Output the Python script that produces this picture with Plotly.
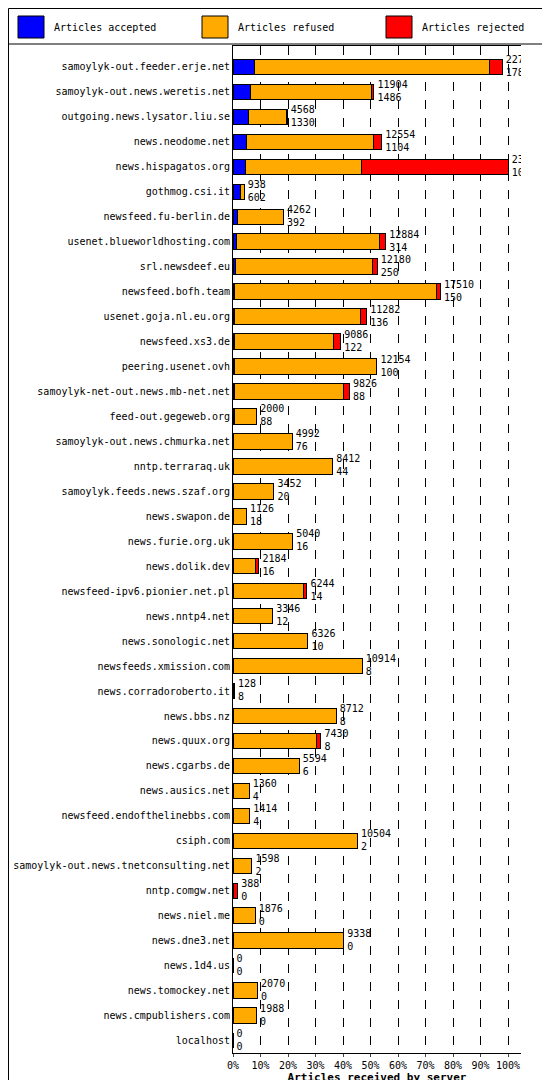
import plotly.graph_objects as go

servers = ["samoylyk-out.feeder.erje.net","samoylyk-out.news.weretis.net","outgoing.news.lysator.liu.se","news.neodome.net","news.hispagatos.org","gothmog.csi.it","newsfeed.fu-berlin.de","usenet.blueworldhosting.com","srl.newsdeef.eu","newsfeed.bofh.team","usenet.goja.nl.eu.org","newsfeed.xs3.de","peering.usenet.ovh","samoylyk-net-out.news.mb-net.net","feed-out.gegeweb.org","samoylyk-out.news.chmurka.net","nntp.terraraq.uk","samoylyk.feeds.news.szaf.org","news.swapon.de","news.furie.org.uk","news.dolik.dev","newsfeed-ipv6.pionier.net.pl","news.nntp4.net","news.sonologic.net","newsfeeds.xmission.com","news.corradoroberto.it","news.bbs.nz","news.quux.org","news.cgarbs.de","news.ausics.net","newsfeed.endofthelinebbs.com","csiph.com","samoylyk-out.news.tnetconsulting.net","nntp.comgw.net","news.niel.me","news.dne3.net","news.1d4.us","news.tomockey.net","news.cmpublishers.com","localhost"]
totals = [22722,11904,4568,12554,23228,938,4262,12884,12180,17510,11282,9086,12154,9826,2000,4992,8412,3452,1126,5040,2184,6244,3346,6326,10914,128,8712,7430,5594,1360,1414,10504,1598,388,1876,9338,0,2070,1988,0]
accepted = [1784,1486,1330,1104,1074,602,392,314,250,150,136,122,100,88,88,76,44,20,18,16,16,14,12,10,8,8,8,8,6,4,4,2,2,0,0,0,0,0,0,0]
rejected = [1088,200,50,700,12354,0,0,500,400,300,500,600,0,500,0,0,0,0,0,0,300,300,0,0,0,0,0,400,0,0,0,0,0,388,0,0,0,0,0,0]
refused = [t-a-r for t,a,r in zip(totals,accepted,rejected)]
series = ["Articles accepted", "Articles refused", "Articles rejected"]
colors = ["#0000ff", "#ffaa00", "#ff0000"]

L, R, T, B, W, H = 225, 37, 38, 35, 550, 1080
pw, ph = W-L-R, H-T-B
px = lambda x: (x-L)/pw
py = lambda y: (H-B-y)/ph

mx = max(totals)
pct = lambda v: [x/mx*100 for x in v]
fig = go.Figure()
for name, vals, col in zip(series, [accepted, refused, rejected], colors):
    fig.add_trace(go.Bar(y=list(range(len(servers))), x=pct(vals), orientation="h", name=name,
                         marker=dict(color=col, line=dict(color="black", width=1)),
                         width=0.62, showlegend=False))
fig.add_trace(go.Scatter(y=list(range(len(servers))), x=[p+1.3 for p in pct(totals)], mode="text",
                         text=[f"{t}<br>{a}" for t,a in zip(totals,accepted)],
                         textposition="middle right", showlegend=False,
                         textfont=dict(size=10, color="black", family="DejaVu Sans Mono")))
fig.update_layout(
    width=W, height=H, barmode="stack", plot_bgcolor="white", paper_bgcolor="white",
    margin=dict(l=L, r=R, t=T, b=B, autoexpand=False),
    font=dict(family="DejaVu Sans Mono", size=10, color="black"),
    showlegend=False,
    xaxis=dict(range=[0,104.7], tickvals=list(range(0,101,10)),
               ticktext=[f"{v}%" for v in range(0,101,10)],
               showgrid=True, gridcolor="black", griddash="dash", gridwidth=1,
               showline=True, linecolor="black", mirror=True, ticks="outside", ticklen=3,
               title=dict(text="<b>Articles received by server</b>", standoff=2, font=dict(size=11))),
    yaxis=dict(range=[39.5, -0.84], tickvals=list(range(len(servers))), ticktext=servers,
               showline=True, linecolor="black", ticks="", tickfont=dict(size=10)),
)
fig.add_shape(type="rect", xref="paper", yref="paper", x0=px(0.5), x1=px(W-0.5), y0=py(H-0.5), y1=py(0.5),
              line=dict(color="black", width=1))
fig.add_shape(type="line", xref="paper", yref="paper", x0=px(0), x1=px(W), y0=py(36), y1=py(36),
              line=dict(color="black", width=1))
for i, (name, col) in enumerate(zip(series, colors)):
    x0 = 10 + i*184
    fig.add_shape(type="rect", xref="paper", yref="paper", x0=px(x0), x1=px(x0+26), y0=py(30), y1=py(8),
                  fillcolor=col, line=dict(color="black", width=1))
    fig.add_annotation(xref="paper", yref="paper", x=px(x0+34), y=py(19), text=name, showarrow=False,
                       xanchor="left", yanchor="middle", font=dict(size=10))
fig.write_html("out.html")
